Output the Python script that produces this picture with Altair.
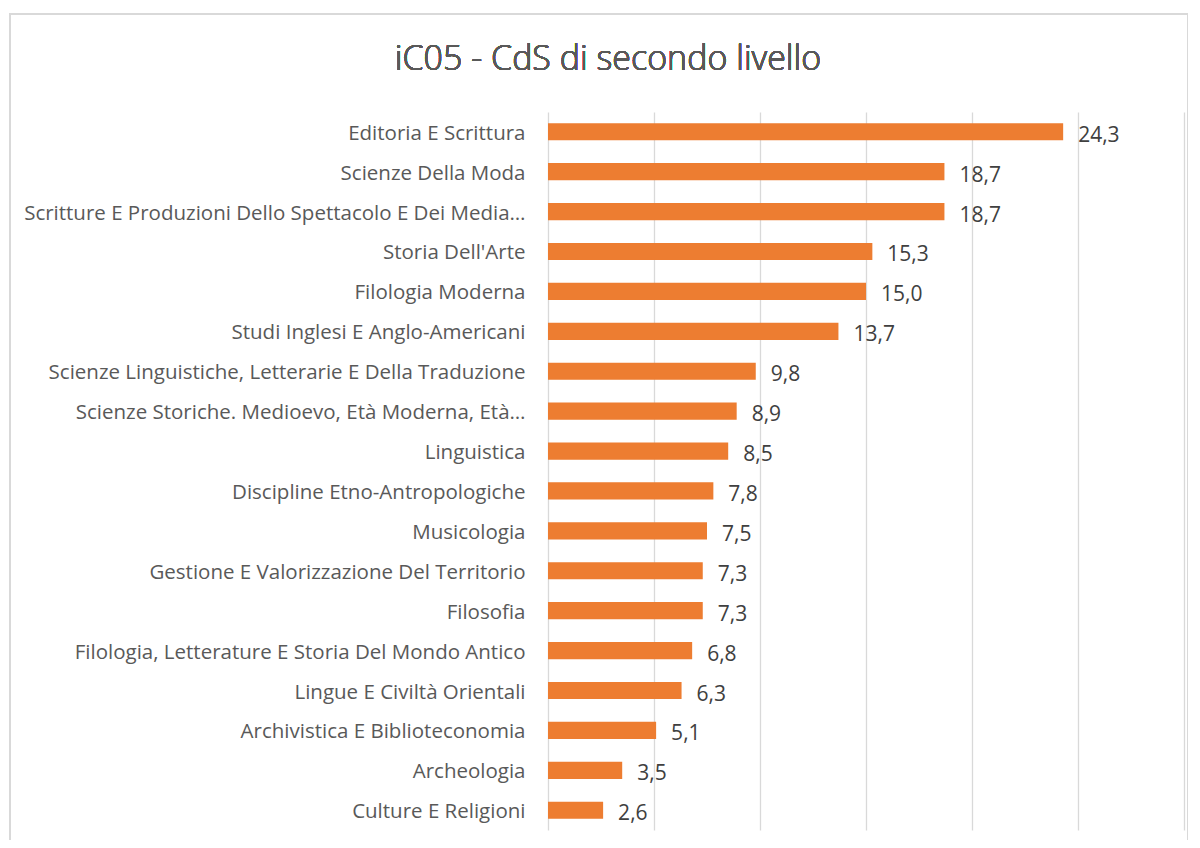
import altair as alt
import pandas as pd

categories = [
    "Editoria E Scrittura",
    "Scienze Della Moda",
    "Scritture E Produzioni Dello Spettacolo E Dei Media…",
    "Storia Dell'Arte",
    "Filologia Moderna",
    "Studi Inglesi E Anglo-Americani",
    "Scienze Linguistiche, Letterarie E Della Traduzione",
    "Scienze Storiche. Medioevo, Età Moderna, Età…",
    "Linguistica",
    "Discipline Etno-Antropologiche",
    "Musicologia",
    "Gestione E Valorizzazione Del Territorio",
    "Filosofia",
    "Filologia, Letterature E Storia Del Mondo Antico",
    "Lingue E Civiltà Orientali",
    "Archivistica E Biblioteconomia",
    "Archeologia",
    "Culture E Religioni",
]
values = [24.3, 18.7, 18.7, 15.3, 15.0, 13.7, 9.8, 8.9, 8.5, 7.8, 7.5, 7.3, 7.3, 6.8, 6.3, 5.1, 3.5, 2.6]
title_text = "iC05 - CdS di secondo livello"

df = pd.DataFrame({"cat": categories, "val": values})
df["lab"] = [f"{v:.1f}".replace(".", ",") for v in values]

FONT = "Open Sans"
GREY = "#595959"

y_enc = alt.Y("cat:N", sort=categories, title=None,
              scale=alt.Scale(paddingInner=0.57, paddingOuter=0.28),
              axis=alt.Axis(labelFont=FONT, labelFontSize=20.5, labelColor=GREY,
                            labelLimit=700, ticks=False, domain=False,
                            labelPadding=23, labelOffset=2, grid=False))
x_enc = alt.X("val:Q", title=None,
              scale=alt.Scale(domain=[0, 30], nice=False),
              axis=alt.Axis(values=[0, 5, 10, 15, 20, 25, 30], labels=False,
                            ticks=False, domain=False, grid=True,
                            gridColor="#d9d9d9", gridWidth=1.3))

frame = alt.Chart(df).mark_rect(fill=None, stroke="#d9d9d9", strokeWidth=1.5).encode(
    x=alt.value(-538), x2=alt.value(640), y=alt.value(-98), y2=alt.value(760)
)

title = alt.Chart(df).mark_text(font=FONT, fontSize=34, fontWeight=300, color=GREY,
                                align="center", baseline="middle").encode(
    x=alt.value(60), y=alt.value(-52), text=alt.value(title_text)
)

bars = alt.Chart(df).mark_bar(color="#ED7D31").encode(y=y_enc, x=x_enc)

text = alt.Chart(df).mark_text(align="left", baseline="middle", dx=15, dy=4,
                               font=FONT, fontSize=21, color="#404040").encode(
    y=alt.Y("cat:N", sort=categories), x="val:Q", text="lab:N"
)

chart = alt.layer(frame, title, bars, text).properties(
    width=636, height=718,
    autosize=alt.AutoSizeParams(type="none"),
    padding={"left": 540, "top": 104, "right": 4, "bottom": 10},
    background="white",
).configure_view(stroke=None)

chart.save("out.html", embed_options={"renderer": "svg", "actions": False})
